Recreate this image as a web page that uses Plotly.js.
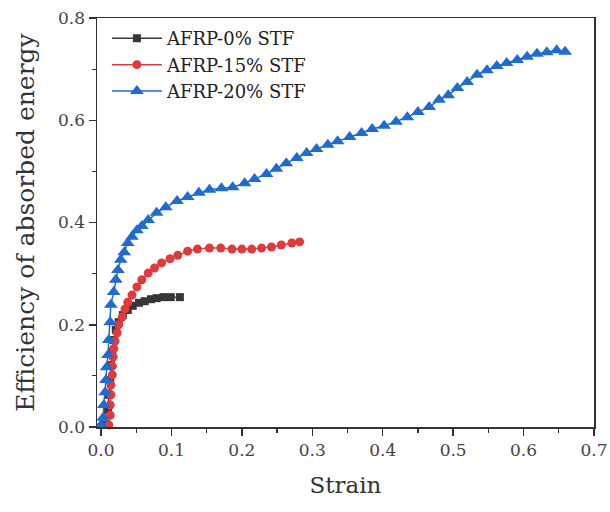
<!DOCTYPE html>
<html>
<head>
<meta charset="utf-8">
<script src="https://cdn.plot.ly/plotly-3.0.1.min.js"></script>
<style>html,body{margin:0;padding:0;background:#fff;}#chart{width:610px;height:512px;}</style>
</head>
<body>
<div id="chart"></div>
<script>
// AFRP-0% STF
const strain0 = [0.007,0.010,0.011,0.013,0.014,0.016,0.018,0.021,0.025,0.031,0.038,0.045,0.054,0.062,0.071,0.079,0.089,0.099,0.112];
const eff0    = [0.004,0.033,0.063,0.092,0.121,0.147,0.170,0.190,0.205,0.219,0.229,0.237,0.243,0.246,0.250,0.252,0.254,0.254,0.254];
// AFRP-15% STF
const strain15 = [0.011,0.013,0.013,0.014,0.014,0.016,0.016,0.017,0.018,0.020,0.023,0.025,0.030,0.034,0.038,0.044,0.051,0.058,0.067,0.076,0.086,0.098,0.109,0.123,0.137,0.154,0.170,0.186,0.200,0.214,0.228,0.242,0.256,0.271,0.282];
const eff15    = [0.004,0.023,0.043,0.063,0.082,0.102,0.119,0.137,0.153,0.168,0.184,0.200,0.215,0.231,0.244,0.258,0.274,0.288,0.301,0.311,0.321,0.329,0.336,0.344,0.348,0.350,0.350,0.348,0.348,0.348,0.350,0.352,0.356,0.360,0.362];
// AFRP-20% STF
const strain20 = [0.000,0.003,0.004,0.006,0.007,0.008,0.010,0.011,0.013,0.014,0.018,0.021,0.024,0.028,0.033,0.038,0.044,0.051,0.058,0.067,0.079,0.092,0.108,0.123,0.139,0.154,0.171,0.187,0.204,0.218,0.235,0.249,0.263,0.278,0.292,0.306,0.322,0.336,0.353,0.370,0.385,0.402,0.419,0.435,0.450,0.466,0.480,0.493,0.506,0.520,0.534,0.548,0.562,0.576,0.591,0.605,0.619,0.633,0.647,0.659];
const eff20    = [0.004,0.018,0.043,0.068,0.092,0.117,0.141,0.170,0.205,0.239,0.264,0.288,0.307,0.327,0.342,0.360,0.372,0.385,0.393,0.405,0.419,0.430,0.442,0.450,0.458,0.464,0.467,0.469,0.477,0.485,0.495,0.505,0.516,0.526,0.536,0.544,0.552,0.559,0.567,0.575,0.583,0.589,0.597,0.606,0.616,0.626,0.640,0.649,0.663,0.675,0.689,0.698,0.706,0.712,0.718,0.724,0.730,0.733,0.737,0.734];

const names = ['AFRP-0% STF','AFRP-15% STF','AFRP-20% STF'];
const xTicks = [0,0.1,0.2,0.3,0.4,0.5,0.6,0.7];
const yTicks = [0,0.2,0.4,0.6,0.8];

const font = 'DejaVu Serif';
const traces = [
  {x: strain0, y: eff0, name: names[0], mode:'lines+markers', type:'scatter',
   line:{color:'#363636', width:1.5}, marker:{symbol:'square', size:8, color:'#363636'}, cliponaxis:false},
  {x: strain15, y: eff15, name: names[1], mode:'lines+markers', type:'scatter',
   line:{color:'#e03a3c', width:1.5}, marker:{symbol:'circle', size:9, color:'#e03a3c'}, cliponaxis:false},
  {x: strain20, y: eff20, name: names[2], mode:'lines+markers', type:'scatter',
   line:{color:'#1f6bd0', width:1.5}, marker:{symbol:'triangle-up', size:12, color:'#1f6bd0'}, cliponaxis:false}
];

const axisCommon = {
  showline:true, linecolor:'#333', linewidth:1.5, mirror:true,
  ticks:'outside', ticklen:7, tickwidth:1.5, tickcolor:'#333',
  showgrid:false, zeroline:false,
  tickfont:{family:font, size:17, color:'#444'},
  tickformat:'.1f'
};

const layout = {
  width:610, height:512,
  margin:{l:97, r:16, t:18, b:85},
  paper_bgcolor:'#fff', plot_bgcolor:'#fff',
  font:{family:font},
  showlegend:true,
  legend:{x:0.02, y:0.995, xanchor:'left', yanchor:'top', bgcolor:'rgba(0,0,0,0)',
          font:{family:font, size:18, color:'#222'}, itemwidth:50, tracegroupgap:0},
  xaxis: Object.assign({}, axisCommon, {
    range:[-0.0057, 0.7], tickvals:xTicks,
    minor:{ticks:'outside', ticklen:4, tickwidth:1.2, tickcolor:'#333', dtick:0.05, tick0:0},
    title:{text:'Strain', font:{family:font, size:23, color:'#333'}, standoff:18}
  }),
  yaxis: Object.assign({}, axisCommon, {
    range:[0, 0.8], tickvals:yTicks,
    minor:{ticks:'outside', ticklen:4, tickwidth:1.2, tickcolor:'#333', dtick:0.1, tick0:0},
    title:{text:'Efficiency of absorbed energy', font:{family:font, size:25, color:'#333'}, standoff:16}
  })
};

Plotly.newPlot('chart', traces, layout, {staticPlot:true, displayModeBar:false});
</script>
</body>
</html>
